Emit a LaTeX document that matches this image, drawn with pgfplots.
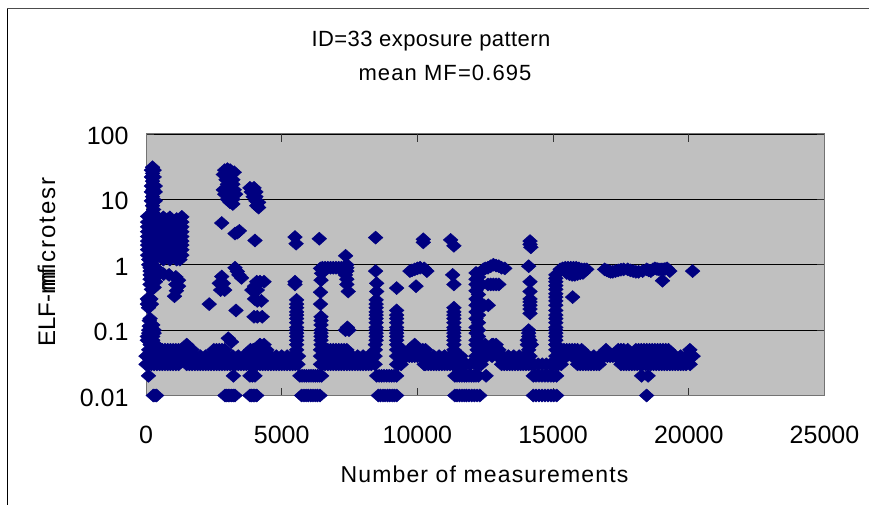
\documentclass[border=0pt]{standalone}
\usepackage{pgfplots}
\pgfplotsset{compat=1.18}
\usepackage{fontspec}
\setmainfont{Liberation Sans}
\definecolor{navyb}{HTML}{000080}
\definecolor{plotbg}{HTML}{C0C0C0}
\newcommand{\fs}[1]{\fontsize{#1pt}{#1pt}\selectfont}
\begin{document}
\begin{tikzpicture}[x=1pt,y=1pt]
\useasboundingbox (0,0) rectangle (869,505);
\draw[black,line width=1pt] (7.5,0) -- (7.5,496.5);
\draw[black!70,line width=1.2pt] (7,496.5) -- (869,496.5);
\begin{axis}[
  at={(146pt,109.5pt)},anchor=south west,
  scale only axis,width=678.5pt,height=261.5pt,
  xmode=normal,ymode=log,
  xmin=0,xmax=25000,ymin=0.01,ymax=100,
  clip=false,
  axis background/.style={fill=plotbg},
  axis line style={draw=black!55,line width=1pt},
  xtick={0,5000,10000,15000,20000,25000},
  xticklabels={0,5000,10000,15000,20000,25000},
  scaled x ticks=false,
  ytick={0.01,0.1,1,10,100},
  yticklabels={0.01,0.1,1,10,100},
  yminorticks=false,
  ymajorgrids=true,
  grid style={black,line width=0.8pt},
  tick align=inside,
  xtick style={black!80,line width=0.7pt},
  ytick style={black!80,line width=0.7pt},
  major tick length=8pt,
  tick label style={font=\fs{25}},
  xticklabel style={yshift=-27pt},
  yticklabel style={xshift=-14pt,yshift=-2pt},
]
\addplot[only marks,mark=diamond*,mark size=6.5pt,
  mark options={xscale=1.5,fill=navyb,draw=navyb,line width=0.5pt}]
coordinates {
% level 0.01
(270,0.01)(330,0.01)(390,0.01)(2910,0.01)(2970,0.01)(3030,0.01)(3090,0.01)(3160,0.01)(3220,0.01)(3280,0.01)(3830,0.01)(3890,0.01)(3950,0.01)(4010,0.01)(4080,0.01)
(5735,0.01)(5820,0.01)(5900,0.01)(5980,0.01)(6070,0.01)(6150,0.01)(6240,0.01)(6320,0.01)(6410,0.01)
(8560,0.01)(8640,0.01)(8730,0.01)(8810,0.01)(8900,0.01)(8980,0.01)(9070,0.01)(9150,0.01)(9235,0.01)
(11380,0.01)(11460,0.01)(11550,0.01)(11640,0.01)(11730,0.01)(11810,0.01)(11900,0.01)(12000,0.01)(12100,0.01)(12200,0.01)(12300,0.01)
(14270,0.01)(14370,0.01)(14480,0.01)(14590,0.01)(14700,0.01)(14810,0.01)(14920,0.01)(15020,0.01)(15130,0.01)(18445,0.01)
% level 0.02
(90,0.02)(3220,0.02)(3830,0.02)(3920,0.02)(4015,0.02)
(5670,0.02)(5750,0.02)(5830,0.02)(5910,0.02)(6000,0.02)(6080,0.02)(6160,0.02)(6240,0.02)(6320,0.02)(6400,0.02)(6470,0.02)
(8500,0.02)(8590,0.02)(8680,0.02)(8770,0.02)(8870,0.02)(8960,0.02)(9050,0.02)(9140,0.02)(9235,0.02)
(11380,0.02)(11460,0.02)(11550,0.02)(11640,0.02)(11730,0.02)(11810,0.02)(11900,0.02)(11990,0.02)(12080,0.02)(12160,0.02)(12250,0.02)(12530,0.02)
(14270,0.02)(14370,0.02)(14480,0.02)(14590,0.02)(14700,0.02)(14810,0.02)(14920,0.02)(15020,0.02)(15130,0.02)(18260,0.02)(18500,0.02)
% level 0.03
(0,0.03)(100,0.03)(200,0.03)(300,0.03)(400,0.03)(500,0.03)(600,0.03)(700,0.03)(800,0.03)(900,0.03)(1000,0.03)(1100,0.03)(1200,0.03)(1500,0.03)(1600,0.03)(1700,0.03)(1800,0.03)(1900,0.03)(2000,0.03)
(2100,0.03)(2200,0.03)(2300,0.03)(2400,0.03)(2500,0.03)(2600,0.03)(2700,0.03)(2800,0.03)(2900,0.03)(3000,0.03)(3100,0.03)(3200,0.03)(3300,0.03)(3400,0.03)(3500,0.03)(3600,0.03)(3700,0.03)(3800,0.03)(3900,0.03)(4000,0.03)
(4100,0.03)(4200,0.03)(4300,0.03)(4400,0.03)(4500,0.03)(4600,0.03)(4700,0.03)(4800,0.03)(4900,0.03)(5000,0.03)(5100,0.03)(5200,0.03)(5300,0.03)(5400,0.03)(5500,0.03)(5600,0.03)
(6430,0.03)(6500,0.03)(6600,0.03)(6700,0.03)(6800,0.03)(6900,0.03)(7000,0.03)(7100,0.03)(7200,0.03)(7300,0.03)(7400,0.03)(7500,0.03)(7600,0.03)(7700,0.03)(7800,0.03)(7900,0.03)(8000,0.03)(8100,0.03)(8200,0.03)(8300,0.03)(8440,0.03)
(9235,0.03)(9300,0.03)(9400,0.03)(10250,0.03)(10300,0.03)(10400,0.03)(10500,0.03)(10600,0.03)(10700,0.03)(10800,0.03)(10900,0.03)(11000,0.03)(11100,0.03)(11200,0.03)(11300,0.03)(11400,0.03)(11500,0.03)(11600,0.03)(11700,0.03)(11800,0.03)(11950,0.03)
(12150,0.03)(12250,0.03)(12350,0.03)(13100,0.03)(13200,0.03)(13300,0.03)(13400,0.03)(13500,0.03)(13600,0.03)(13700,0.03)(13800,0.03)(13900,0.03)(14000,0.03)(14100,0.03)(14200,0.03)(14300,0.03)(14450,0.03)(14600,0.03)(14750,0.03)(14900,0.03)(15000,0.03)(15100,0.03)(15200,0.03)(15300,0.03)
(15900,0.03)(16000,0.03)(16100,0.03)(16200,0.03)(16300,0.03)(16400,0.03)(16500,0.03)(16600,0.03)(16700,0.03)(17500,0.03)(17600,0.03)(17700,0.03)(17800,0.03)(17900,0.03)(18000,0.03)(18100,0.03)(18200,0.03)(18300,0.03)(18400,0.03)(18500,0.03)(18600,0.03)(18700,0.03)(18800,0.03)(18900,0.03)(19000,0.03)(19100,0.03)(19200,0.03)(19300,0.03)(19400,0.03)(19500,0.03)(19600,0.03)(19700,0.03)(19800,0.03)(19900,0.03)(20050,0.03)
% level 0.04
(0,0.04)(200,0.04)(400,0.04)(600,0.04)(800,0.04)(1000,0.04)(1200,0.04)(1400,0.04)(1600,0.04)(1800,0.04)
(2000,0.04)(2200,0.04)(2400,0.04)(2600,0.04)(2800,0.04)(3000,0.04)(3200,0.04)(3400,0.04)(3600,0.04)(3800,0.04)
(4000,0.04)(4200,0.04)(4400,0.04)(4600,0.04)(4800,0.04)(5000,0.04)(5200,0.04)(5400,0.04)(5620,0.04)
(6430,0.04)(6600,0.04)(6800,0.04)(7000,0.04)(7200,0.04)(7400,0.04)(7600,0.04)(7800,0.04)(8000,0.04)(8200,0.04)(8440,0.04)
(9235,0.04)(9400,0.04)(9500,0.04)(9600,0.04)(9700,0.04)(9800,0.04)(9900,0.04)(10000,0.04)(10100,0.04)(10200,0.04)(10400,0.04)(10600,0.04)(10800,0.04)(11000,0.04)(11200,0.04)(11400,0.04)(11600,0.04)
(12150,0.04)(12350,0.04)(12550,0.04)(12750,0.04)(12950,0.04)(13150,0.04)(13350,0.04)(13550,0.04)(13750,0.04)(13950,0.04)(14150,0.04)
(15100,0.04)(15300,0.04)(15500,0.04)(15700,0.04)(15900,0.04)(16100,0.04)(16300,0.04)(16500,0.04)(16700,0.04)(16900,0.04)(17000,0.04)(17100,0.04)(17200,0.04)(17300,0.04)(17500,0.04)(17700,0.04)(17900,0.04)(18100,0.04)(18300,0.04)(18500,0.04)(18700,0.04)(18900,0.04)(19100,0.04)(19300,0.04)(19500,0.04)(19700,0.04)(19900,0.04)(20160,0.04)
% level 0.05
(100,0.05)(200,0.05)(300,0.05)(400,0.05)(500,0.05)(600,0.05)(700,0.05)(800,0.05)(900,0.05)(1000,0.05)(1100,0.05)(1200,0.05)(1300,0.05)(1400,0.05)(1500,0.05)(1600,0.05)(1700,0.05)
(2500,0.05)(2600,0.05)(2700,0.05)(2800,0.05)(2900,0.05)(3850,0.05)(3950,0.05)(4050,0.05)(4150,0.05)(4250,0.05)(4350,0.05)(4450,0.05)(5550,0.05)
(6430,0.05)(6500,0.05)(6600,0.05)(6700,0.05)(6800,0.05)(6900,0.05)(7000,0.05)(7100,0.05)(7200,0.05)(7300,0.05)(7400,0.05)(8450,0.05)(9235,0.05)(9350,0.05)(9450,0.05)(9700,0.05)(9800,0.05)(9900,0.05)(10000,0.05)(10100,0.05)(10200,0.05)(10300,0.05)(11345,0.05)
(12200,0.05)(12300,0.05)(12400,0.05)(12500,0.05)(12600,0.05)(12700,0.05)(12800,0.05)(12900,0.05)(13000,0.05)(14100,0.05)(15100,0.05)(15200,0.05)(15300,0.05)(15400,0.05)(15500,0.05)(15600,0.05)(15700,0.05)(15800,0.05)(15900,0.05)(16050,0.05)
(16950,0.05)(17400,0.05)(17500,0.05)(17600,0.05)(17750,0.05)(18050,0.05)(18150,0.05)(18250,0.05)(18350,0.05)(18450,0.05)(18550,0.05)(18650,0.05)(18750,0.05)(18850,0.05)(18950,0.05)(19050,0.05)(19150,0.05)(19250,0.05)(20040,0.05)
% level 0.06
(150,0.06)(350,0.06)(1500,0.06)(4200,0.06)(4350,0.06)(5550,0.06)(6450,0.06)(8450,0.06)(9235,0.06)(9900,0.06)(11345,0.06)(12160,0.06)(12270,0.06)(12750,0.06)(12900,0.06)(14100,0.06)(15100,0.06)
% left column, lower
(50,0.07)(250,0.07)(50,0.08)(250,0.08)(100,0.09)(300,0.09)(100,0.1)(300,0.1)(120,0.115)(250,0.12)(120,0.14)(150,0.15)
(90,0.22)(50,0.25)(200,0.25)(100,0.28)(50,0.3)(180,0.3)
% left column, upper
(200,0.42)(300,0.45)(150,0.5)(350,0.55)(150,0.6)(350,0.65)(150,0.7)(350,0.7)(150,0.8)(350,0.8)(150,0.9)(350,0.9)
(650,0.72)(850,0.7)(1100,0.65)(1200,0.58)(1100,0.5)(1200,0.47)(1120,0.4)(1050,0.33)
(240,31)(200,28)(300,28)(240,25)(200,22)(300,22)(240,19)(200,16)(340,16)(260,14)(200,13)(340,13)(240,11)(200,9.5)(340,9.5)(240,8)(280,7)(240,6.3)
% left block
(60,5.5)(150,5.5)(390,5.5)(640,5.3)(880,5.3)(1130,5)(1320,5.4)
(60,4.5)(150,4.5)(390,4.5)(640,4.5)(880,4.5)(1130,4.5)(1320,4.5)
(60,3.8)(150,3.8)(390,3.8)(640,3.8)(880,3.8)(1130,3.8)(1320,3.8)
(60,3.2)(150,3.2)(390,3.2)(640,3.2)(880,3.2)(1130,3.2)(1320,3.2)
(60,2.7)(150,2.7)(390,2.7)(640,2.7)(880,2.7)(1130,2.7)(1320,2.7)
(60,2.3)(150,2.3)(300,2.2)(640,2.3)(880,2.3)(1130,2.3)(1320,2.3)
(60,2)(150,2)(300,1.9)(640,2)(880,2)(1130,2)(1320,2)
(60,1.7)(150,1.7)(390,1.7)(640,1.7)(880,1.7)(1130,1.7)(1320,1.7)
(60,1.4)(150,1.4)(390,1.4)(640,1.4)(880,1.4)(1130,1.4)(1320,1.4)
(100,1.2)(300,1.2)(640,1.2)(880,1.2)(1130,1.2)(1250,1.2)
(100,1)(250,1)
% 3000 clusters
(2900,28)(3000,29)(3100,28)(3250,26)(2850,24)(3000,24)(3150,24)(2950,20)(3100,20)(3200,20)(3000,17)(3100,17)(3200,17)
(2850,14)(3000,14)(3100,14)(3250,14)(2900,12)(3100,12)(3300,12)(3000,10)(3200,10)(3100,9)(3200,8.5)
(3830,15)(3980,15)(4050,13)(3880,13)(3950,11)(4050,11)(4050,9.5)(4150,9)(4080,8)(4150,7.5)
(2790,4.35)(3280,3)(3365,3.1)(3440,3.3)(4015,2.35)
(5490,2.65)(5530,2.1)(6385,2.5)(8460,2.6)(10217,2.45)(10217,2.2)
(2790,0.66)(2700,0.52)(2850,0.52)(2750,0.41)(2900,0.41)(2330,0.25)(3315,0.2)(3030,0.075)(3150,0.066)
(3280,0.9)(3365,0.79)(3420,0.7)(3520,0.63)
(3900,0.41)(4080,0.55)(4200,0.55)(4350,0.55)(4000,0.47)(4100,0.41)(4000,0.3)(4100,0.28)(4250,0.28)(3980,0.16)(4100,0.16)(4280,0.16)
% columns near 5500-6500
(5490,0.55)(5490,0.5)(5550,0.29)(5550,0.25)(5550,0.22)(5550,0.19)(5550,0.17)(5550,0.15)(5550,0.13)(5550,0.11)(5550,0.1)(5550,0.09)(5550,0.08)(5550,0.07)
(6470,0.74)(6450,0.58)(6430,0.38)(6430,0.25)(6450,0.16)(6450,0.14)(6450,0.12)(6450,0.1)(6450,0.09)(6450,0.08)(6450,0.07)
(6430,0.88)(6500,0.9)(6600,0.9)(6700,0.9)(6800,0.9)(6900,0.9)(7000,0.9)(7100,0.9)(7200,0.9)(7300,0.9)(7400,1)(7355,1.37)(7400,0.9)(7400,0.8)(7350,0.7)(7400,0.6)(7400,0.5)(7450,0.39)(7350,0.1)(7420,0.11)(7480,0.1)
% columns near 8500-9500
(8460,0.8)(8500,0.52)(8500,0.39)(8480,0.29)(8480,0.25)(8480,0.22)(8480,0.19)(8480,0.17)(8480,0.15)(8480,0.13)(8480,0.11)(8480,0.1)(8480,0.09)(8480,0.08)(8480,0.07)
(9235,0.44)(9235,0.2)(9235,0.17)(9235,0.15)(9235,0.13)(9235,0.11)(9235,0.1)(9235,0.09)(9235,0.08)(9235,0.07)
(9725,0.8)(9800,0.82)(9900,0.85)(10000,0.88)(10100,0.9)(10250,0.88)(10350,0.8)(9950,0.47)
% 11000-13000
(11224,2.4)(11345,1.95)(11300,0.7)(11345,0.5)
(11345,0.22)(11345,0.19)(11345,0.17)(11345,0.15)(11345,0.13)(11345,0.11)(11345,0.1)(11345,0.09)(11345,0.08)(11345,0.07)
(12160,0.75)(12250,0.65)(12160,0.6)(12250,0.55)(12160,0.5)(12250,0.45)(12160,0.4)(12250,0.35)(12160,0.3)(12250,0.27)(12160,0.24)(12250,0.21)(12160,0.19)(12250,0.17)(12160,0.15)(12250,0.13)(12160,0.11)(12250,0.1)(12160,0.09)(12250,0.08)(12160,0.07)
(12610,0.24)(12450,0.24)(12600,0.5)(12700,0.5)(12800,0.5)(12900,0.5)(13000,0.5)
(12430,0.85)(12500,0.88)(12600,0.9)(12700,0.95)(12800,1)(12900,0.97)(13000,0.95)(13100,0.9)(13220,0.88)
(12500,0.06)(12800,0.06)
% 14000-15500
(14150,2.3)(14150,2.05)(14180,1.85)(14100,0.95)(14150,0.55)(14150,0.39)(14150,0.3)(14150,0.27)(14150,0.24)(14150,0.21)(14150,0.18)(14100,0.1)(14100,0.09)(14100,0.08)(14050,0.07)(14150,0.07)(14050,0.06)(14200,0.06)
(15100,0.7)(15100,0.62)(15100,0.55)(15100,0.48)(15100,0.42)(15100,0.36)(15100,0.32)(15100,0.28)(15100,0.24)(15100,0.2)(15100,0.17)(15100,0.15)(15100,0.13)(15100,0.11)(15100,0.1)(15100,0.09)(15100,0.08)(15100,0.07)(15100,0.06)
(15260,0.85)(15350,0.88)(15450,0.9)(15550,0.9)(15650,0.9)(15750,0.9)(15850,0.9)(15950,0.88)(16050,0.85)(16150,0.85)(16240,0.85)(15500,0.75)(15600,0.72)(15700,0.7)(15800,0.7)(15900,0.72)(16000,0.74)(16100,0.75)(15720,0.32)
% right rows
(16900,0.85)(16980,0.82)(17050,0.8)(17120,0.78)(17200,0.78)(17300,0.8)(17400,0.82)(17500,0.84)(17600,0.85)(17750,0.85)(17850,0.82)(17950,0.8)(18050,0.78)(18150,0.78)(18300,0.8)(18450,0.85)(18520,0.82)(18600,0.8)(18680,0.85)(18750,0.88)(18830,0.86)(18900,0.85)(18980,0.85)(19050,0.85)(19120,0.86)(19200,0.88)(19300,0.8)(19030,0.57)(20140,0.8)
};
\end{axis}
\node[anchor=center,font=\fs{22}\addfontfeature{LetterSpace=2}] at (431,464) {ID=33 exposure pattern};
\node[anchor=center,font=\fs{22}\addfontfeature{LetterSpace=5}] at (445,432) {mean MF=0.695};
\node[anchor=center,font=\fs{23}\addfontfeature{LetterSpace=5}] at (484.5,31) {Number of measurements};
\node[rotate=90,anchor=west,font=\fs{24}] at (46.5,155) {ELF-mf};
\node[rotate=90,anchor=west,font=\fs{24}\addfontfeature{LetterSpace=8}] at (46.5,210) {microtesr};
\end{tikzpicture}
\end{document}
